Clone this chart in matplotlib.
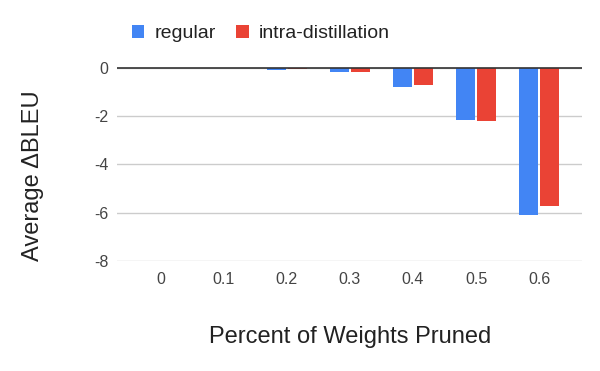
import numpy as np
import matplotlib
matplotlib.use('Agg')
import matplotlib.pyplot as plt

plt.rcParams['font.family'] = ['Liberation Sans', 'DejaVu Sans']
plt.rcParams['axes.unicode_minus'] = False

# data
pruned = ['0', '0.1', '0.2', '0.3', '0.4', '0.5', '0.6']
regular = [0.0, -0.02, -0.1, -0.2, -0.82, -2.15, -6.1]
intra = [0.0, -0.02, -0.07, -0.2, -0.74, -2.2, -5.74]

fig = plt.figure(figsize=(6, 3.71), dpi=100)
ax = fig.add_axes([0.195, 0.296, 0.775, 0.548])

x = np.arange(len(pruned))
w = 0.3
ax.bar(x - w/2 - 0.015, regular, width=w, color='#4285F4', label='regular', zorder=3)
ax.bar(x + w/2 + 0.015, intra, width=w, color='#EA4335', label='intra-distillation', zorder=3)

ax.set_xlim(-0.69, 6.68)
ax.set_ylim(-8, 0.4)
ax.set_yticks([0, -2, -4, -6, -8])
ax.set_xticks(x)
ax.set_xticklabels(pruned)
ax.grid(axis='y', color='#cccccc', linewidth=1, zorder=0)
ax.axhline(0, color='#333333', linewidth=1.2, zorder=4)
for s in ax.spines.values():
    s.set_visible(False)
ax.tick_params(length=0, labelsize=11.5, colors='#444444', pad=8)
ax.tick_params(axis='y', pad=6)

fig.text(350/600, 1 - 343/371, 'Percent of Weights Pruned', fontsize=17,
         color='#222222', ha='center', va='baseline')
fig.text(33/600, 1 - 176/371, 'Average \u0394BLEU', fontsize=17,
         color='#222222', ha='center', va='center', rotation=90)

fig.legend(loc='center', bbox_to_anchor=(0.435, 0.91), ncol=2, frameon=False,
           fontsize=14, handlelength=0.65, handleheight=0.65, handletextpad=0.55,
           columnspacing=1.0, labelcolor='#222222')

fig.savefig('out.png', dpi=100)
